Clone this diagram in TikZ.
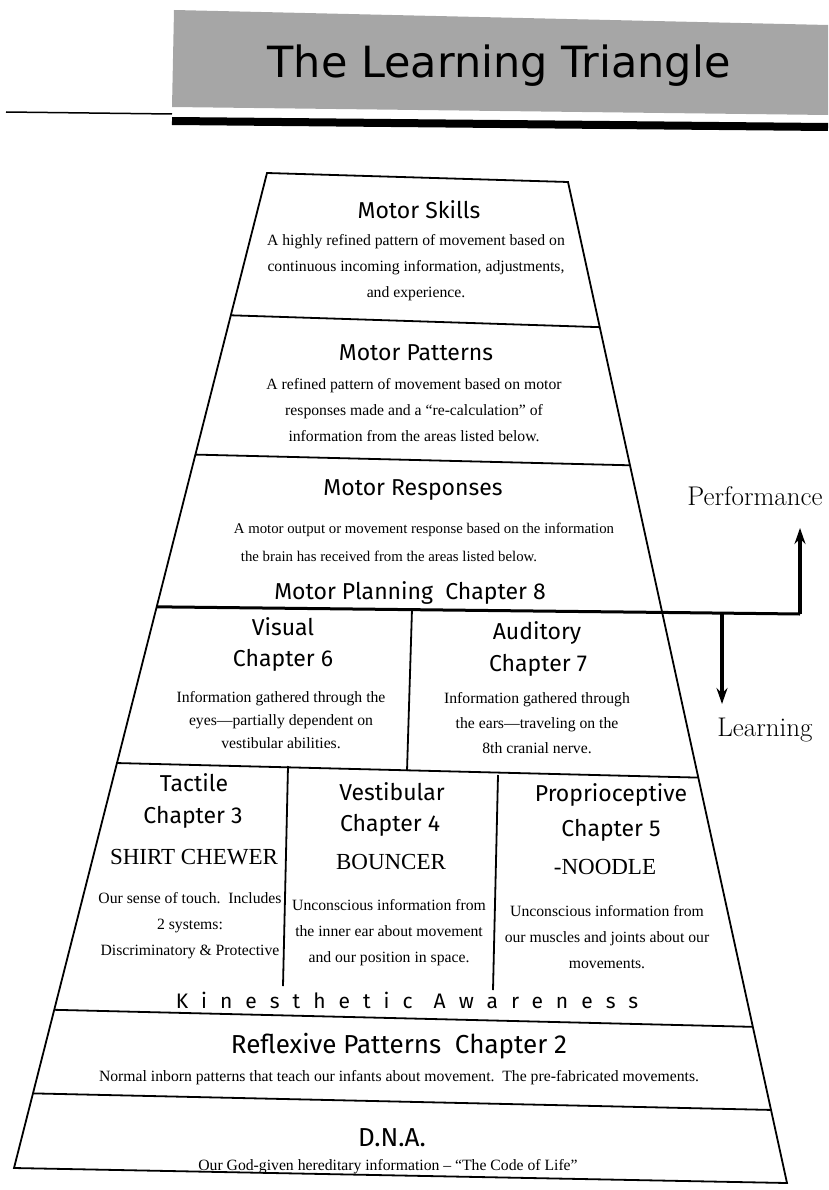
\documentclass[tikz,border=0pt]{standalone}
\usepackage{fontspec}
\usepackage{tikz}
\usetikzlibrary{calc,positioning}
\usetikzlibrary{arrows.meta}
\newfontfamily\headfont{Fira Sans}
\newfontfamily\spacedfont[LetterSpace=62]{Fira Sans}
\newfontfamily\bodyfont[Ligatures=TeX]{Liberation Serif}
\newfontfamily\bannerfont{DejaVu Sans}

\begin{document}
\begin{tikzpicture}[x=1pt,y=-1pt,
		heading/.style={inner sep=0pt, font=\headfont\fontsize{23}{26}\selectfont},
		bigheading/.style={inner sep=0pt, font=\headfont\fontsize{26}{30}\selectfont},
		nick/.style={inner sep=0pt, font=\bodyfont\fontsize{23}{26}\selectfont},
		body/.style={inner sep=0pt, align=center, font=\bodyfont\fontsize{15.7}{26}\selectfont},
		side/.style={inner sep=0pt, font=\rmfamily\fontsize{27}{30}\selectfont},
		bannertext/.style={inner sep=0pt, font=\bannerfont\fontsize{43}{46}\selectfont},
		frame/.style={line width=1.8pt},
		thickarrow/.style={line width=4pt, -{Stealth[length=16pt,width=11pt]}}
		]
	\useasboundingbox (0,0) rectangle (828,1190);

	% banner
	\fill[black!35] (174,10) -- (828,25) -- (828,115) -- (172,107) -- cycle;
	\draw[line width=1.5pt] (6,112) -- (172,114);
	\draw[line width=8pt] (172,121) -- (828,127);
	\node[bannertext] (banner) at (499,66) {The Learning Triangle};

	% trapezoid
	\coordinate (TL) at (267,173);
	\coordinate (TR) at (568,182);
	\coordinate (BL) at (14,1168);
	\coordinate (BR) at (787,1183);
	\draw[frame] (TL) -- (TR) -- (BR) -- (BL) -- cycle;
	\foreach \n/\fl/\fr in {1/0.143/0.145, 2/0.283/0.283, 3/0.436/0.430, 4/0.593/0.595, 5/0.841/0.844, 6/0.925/0.927} {
		\coordinate (L\n) at ($(TL)!\fl!(BL)$);
		\coordinate (R\n) at ($(TR)!\fr!(BR)$);
	}
	\foreach \n in {1,2,4,5,6}
		\draw[frame] (L\n) -- (R\n);
	\draw[frame] (412,609) -- (407,771);
	\draw[frame] (288,766) -- (283,986);
	\draw[frame] (498,775) -- (493,990);

	% performance / learning
	\coordinate (perfcorner) at (800,614);
	\coordinate (perftip) at (800,528);
	\coordinate (learnstart) at (722,614);
	\coordinate (learntip) at (722,704);
	\draw[line width=3pt] (L3) -- (R3) -- (perfcorner);
	\draw[thickarrow] (perfcorner) -- (perftip);
	\draw[thickarrow] (learnstart) -- (learntip);
	\node[side] (perf) at (755,496) {Performance};
	\node[side] (learn) at (765,730) {Learning};

	% upper levels
	\node[heading] (skills) at (419,210) {Motor Skills};
	\node[body] (skillstxt) at (416,268) {A highly refined pattern of movement based on\\continuous incoming information, adjustments,\\and experience.};
	\node[heading] (patterns) at (416,353) {Motor Patterns};
	\node[body] (patternstxt) at (414,410) {A refined pattern of movement based on motor\\responses made and a “re-calculation” of\\information from the areas listed below.};
	\node[heading] (responses) at (413,490) {Motor Responses};
	\node[body, font=\bodyfont\fontsize{14.8}{26}\selectfont] (responsestxt) at (424,530) {A motor output or movement response based on the information};
	\node[body, font=\bodyfont\fontsize{14.8}{26}\selectfont] (responsestxtb) at (389,556) {the brain has received from the areas listed below.};
	\node[heading] (planning) at (410,593) {Motor Planning\ \ Chapter 8};

	% visual / auditory
	\node[heading] (visual) at (283,627) {Visual};
	\node[heading] (visualch) at (283,660) {Chapter 6};
	\node[body, font=\bodyfont\fontsize{15.7}{23}\selectfont] (visualtxt) at (281,720) {Information gathered through the\\eyes—partially dependent on\\vestibular abilities.};
	\node[heading] (auditory) at (537,633) {Auditory};
	\node[heading] (auditorych) at (538,665) {Chapter 7};
	\node[body, font=\bodyfont\fontsize{15.7}{25}\selectfont] (auditorytxt) at (537,723) {Information gathered through\\the ears—traveling on the\\8th cranial nerve.};

	% tactile / vestibular / proprioceptive
	\node[heading] (tactile) at (194,783) {Tactile};
	\node[heading] (tactilech) at (193,817) {Chapter 3};
	\node[nick] (chewer) at (194,857) {SHIRT CHEWER};
	\node[body] (tactiletxt) at (190,926) {Our sense of touch.\ \ Includes\\2 systems:\\Discriminatory \& Protective};
	\node[heading] (vestibular) at (392,792) {Vestibular};
	\node[heading] (vestibularch) at (390,825) {Chapter 4};
	\node[nick] (bouncer) at (391,862) {BOUNCER};
	\node[body] (vestibulartxt) at (389,933) {Unconscious information from\\the inner ear about movement\\and our position in space.};
	\node[heading] (proprio) at (611,795) {Proprioceptive};
	\node[heading] (proprioch) at (611,830) {Chapter 5};
	\node[nick] (noodle) at (605,867) {-NOODLE};
	\node[body] (propriotxt) at (607,937) {Unconscious information from\\our muscles and joints about our\\movements.};
	\node[inner sep=0pt, font=\spacedfont\fontsize{21}{24}\selectfont] (kinesthetic) at (407,1000) {Kinesthetic\quad Awareness};

	% lower levels
	\node[bigheading] (reflexive) at (399,1046) {Reflexive Patterns\ \ Chapter 2};
	\node[body] (reflexivetxt) at (399,1078) {Normal inborn patterns that teach our infants about movement.\ \ The pre-fabricated movements.};
	\node[bigheading] (dna) at (392,1138) {D.N.A.};
	\node[body] (dnatxt) at (388,1167) {Our God-given hereditary information – “The Code of Life”};
\end{tikzpicture}
\end{document}
